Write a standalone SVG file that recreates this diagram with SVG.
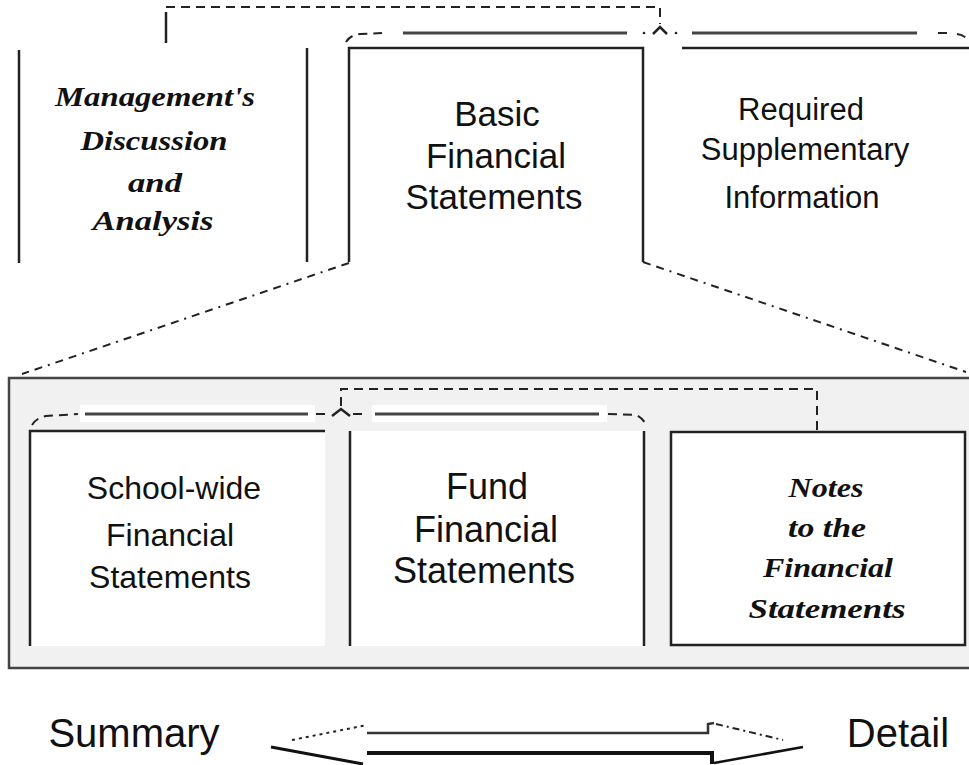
<svg xmlns="http://www.w3.org/2000/svg" width="969" height="765" viewBox="0 0 969 765">
<style>
.sans{font-family:"Liberation Sans",Arial,sans-serif;fill:#111;text-anchor:middle}
.script{font-family:"Liberation Serif","DejaVu Serif",serif;font-style:italic;font-weight:bold;fill:#111;text-anchor:middle}
.edge{fill:none;stroke:#222;stroke-width:2.5}
.solid{fill:none;stroke:#444;stroke-width:3}
.dash{fill:none;stroke:#222;stroke-width:2;stroke-dasharray:9 6}
.diag{fill:none;stroke:#222;stroke-width:2;stroke-dasharray:8 6 8 6 2 6}
</style>
<rect width="969" height="765" fill="#ffffff"/>

<g id="mdna">
  <path class="edge" d="M19,50 L19,263 M307,48 L307,262"/>
  <text class="script" font-size="27" x="155" y="106" textLength="200" lengthAdjust="spacingAndGlyphs">Management's</text>
  <text class="script" font-size="27" x="154" y="150" textLength="147" lengthAdjust="spacingAndGlyphs">Discussion</text>
  <text class="script" font-size="27" x="155" y="192" textLength="54" lengthAdjust="spacingAndGlyphs">and</text>
  <text class="script" font-size="27" x="153" y="230" textLength="121" lengthAdjust="spacingAndGlyphs">Analysis</text>
</g>

<g id="basic">
  <path class="edge" d="M349,262 L349,48 L643,48 L643,262"/>
  <text class="sans" font-size="35" x="497" y="126">Basic</text>
  <text class="sans" font-size="35" x="496" y="168">Financial</text>
  <text class="sans" font-size="35" x="494" y="209">Statements</text>
</g>

<g id="rsi">
  <path class="edge" d="M682,48 L969,48"/>
  <text class="sans" font-size="31" x="801" y="120">Required</text>
  <text class="sans" font-size="31" x="805" y="160">Supplementary</text>
  <text class="sans" font-size="31" x="802" y="208">Information</text>
</g>

<g id="panel">
  <rect x="9" y="378" width="975" height="290" fill="#f1f1f1" stroke="#444" stroke-width="2.5"/>
</g>

<g id="schoolwide">
  <rect x="30" y="431" width="295" height="215" fill="#ffffff"/>
  <path class="edge" d="M30,646 L30,431 L325,431"/>
  <text class="sans" font-size="32" x="174" y="499">School-wide</text>
  <text class="sans" font-size="32" x="170" y="546">Financial</text>
  <text class="sans" font-size="32" x="170" y="588">Statements</text>
</g>

<g id="fund">
  <rect x="350" y="431" width="294" height="215" fill="#ffffff"/>
  <path class="edge" d="M350,431 L350,646 M644,431 L644,646"/>
  <text class="sans" font-size="36" x="487" y="499">Fund</text>
  <text class="sans" font-size="36" x="486" y="542">Financial</text>
  <text class="sans" font-size="36" x="484" y="583">Statements</text>
</g>

<g id="notes">
  <rect x="671" y="432" width="294" height="213" fill="#ffffff" stroke="#222" stroke-width="2.5"/>
  <text class="script" font-size="27" x="826" y="497" textLength="75" lengthAdjust="spacingAndGlyphs">Notes</text>
  <text class="script" font-size="27" x="827" y="537" textLength="78" lengthAdjust="spacingAndGlyphs">to the</text>
  <text class="script" font-size="27" x="828" y="577" textLength="130" lengthAdjust="spacingAndGlyphs">Financial</text>
  <text class="script" font-size="27" x="827" y="618" textLength="157" lengthAdjust="spacingAndGlyphs">Statements</text>
</g>

<g id="connectors">
  <!-- top connector from MD&A to brace -->
  <path class="edge" d="M166,12 L166,43"/>
  <path class="dash" d="M166,7 L660,7 L660,24"/>
  <!-- top brace -->
  <path class="dash" d="M346,42 Q350,35 360,34 L382,33" stroke-dasharray="7 5"/>
  <path class="solid" d="M403,33 L627,33"/>
  <circle cx="644" cy="33" r="1.3" fill="#222"/>
  <path class="edge" stroke-width="2" d="M653,34 L660,27 L667,34"/>
  <circle cx="676" cy="33" r="1.3" fill="#222"/>
  <path class="solid" d="M692,33 L917,33"/>
  <path class="dash" d="M938,33 L953,33 M957,34 Q964,35 968,40" stroke-dasharray="7 5"/>
  <!-- expansion lines -->
  <path class="diag" d="M349,263 L22,374"/>
  <path class="diag" d="M643,262 L966,372"/>
  <!-- middle brace -->
  <path class="dash" d="M32,425 Q36,418 46,416 L78,414" stroke-dasharray="8 5"/>
  <rect x="80" y="405" width="235" height="17" fill="#ffffff"/>
  <path class="solid" d="M85,414 L308,414"/>
  <path class="dash" d="M316,414 L330,414"/>
  <path class="edge" stroke-width="2" d="M332,416 L341,409 L350,416"/>
  <path class="dash" d="M353,414 L364,414"/>
  <rect x="372" y="405" width="235" height="17" fill="#ffffff"/>
  <path class="solid" d="M375,414 L599,414"/>
  <path class="dash" d="M608,414 L636,415 Q643,418 646,425" stroke-dasharray="8 5"/>
  <path class="dash" d="M341,406 L341,389 L817,389 L817,432"/>
  <!-- bottom double arrow -->
  <path fill="none" stroke="#222" stroke-width="2" stroke-dasharray="3 4" d="M292,740 L367,725"/>
  <path fill="none" stroke="#111" stroke-width="3" d="M271,747 L363,764"/>
  <path fill="none" stroke="#333" stroke-width="2.5" d="M367,733 L708,733 L708,724 L714,723"/>
  <path fill="none" stroke="#222" stroke-width="2" stroke-dasharray="7 4 2 4" d="M716,724 L783,740"/>
  <path fill="none" stroke="#111" stroke-width="4" d="M367,753 L712,753 L712,764"/>
  <path fill="none" stroke="#111" stroke-width="2.5" d="M714,763 L803,747"/>
</g>

<g id="labels">
  <text class="sans" font-size="40" x="134" y="747">Summary</text>
  <text class="sans" font-size="40" x="898" y="747">Detail</text>
</g>
</svg>
